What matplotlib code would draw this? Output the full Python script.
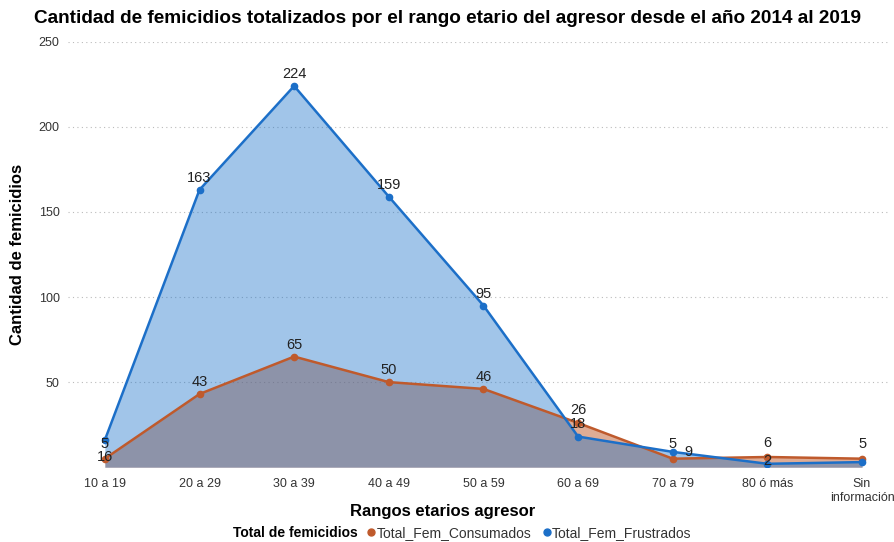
import numpy as np
import matplotlib
matplotlib.use('Agg')
import matplotlib.pyplot as plt
from matplotlib.lines import Line2D

plt.rcParams['font.family'] = ['Liberation Sans', 'DejaVu Sans']

# datos
rangos = ['10 a 19', '20 a 29', '30 a 39', '40 a 49', '50 a 59', '60 a 69',
          '70 a 79', '80 ó más', 'Sin\ninformación']
consumados = [5, 43, 65, 50, 46, 26, 5, 6, 5]
frustrados = [16, 163, 224, 159, 95, 18, 9, 2, 3]

# desplazamiento de las etiquetas (pixeles), None = sin etiqueta
off_cons = [(0, 15), (0, 12), (0, 12), (0, 12), (0, 12), (0, 13), (0, 15), (0, 14), (0, 15)]
off_frus = [(0, -17), (0, 12), (0, 12), (0, 12), (0, 12), (0, 13), (16, 0), (0, 3), None]

c_cons = '#bf5a2c'
c_frus = '#1c6fc8'

fig = plt.figure(figsize=(8.94, 5.42), dpi=100)
ax = fig.add_axes([0.076, 0.138, 0.92, 0.785])
x = np.arange(len(rangos))

ax.fill_between(x, consumados, 0, color='#bf5a2c', alpha=0.5, lw=0, zorder=1)
ax.fill_between(x, frustrados, 0, color='#146ec8', alpha=0.4, lw=0, zorder=2)
ax.plot(x, consumados, color=c_cons, lw=1.8, marker='o', ms=4.5, zorder=3)
ax.plot(x, frustrados, color=c_frus, lw=1.8, marker='o', ms=4.5, zorder=4)

for i in range(len(x)):
    if off_cons[i] is not None:
        ax.annotate(str(consumados[i]), (x[i], consumados[i]), xytext=off_cons[i],
                    textcoords='offset pixels', ha='center', va='center',
                    fontsize=10.5, color='#222222', zorder=5)
    if off_frus[i] is not None:
        ax.annotate(str(frustrados[i]), (x[i], frustrados[i]), xytext=off_frus[i],
                    textcoords='offset pixels', ha='center', va='center',
                    fontsize=10.5, color='#222222', zorder=5)

ax.set_ylim(0, 250)
ax.set_xlim(-0.39, 8.3)
ax.set_yticks([50, 100, 150, 200, 250])
ax.set_xticks(x)
ax.set_xticklabels(rangos)
ax.tick_params(axis='both', length=0, labelsize=9, colors='#333333', pad=8)
ax.tick_params(axis='y', pad=6)
ax.grid(axis='y', linestyle=(0, (1, 3)), color='#bbbbbb', lw=0.8)
ax.set_axisbelow(True)
for s in ax.spines.values():
    s.set_visible(False)

ax.set_xlabel('Rangos etarios agresor', fontsize=12, fontweight='bold')
ax.xaxis.set_label_coords(0.455, -0.087)
ax.set_ylabel('Cantidad de femicidios', fontsize=12, fontweight='bold')
ax.yaxis.set_label_coords(-0.052, 0.5)

fig.text(0.5, 0.966, 'Cantidad de femicidios totalizados por el rango etario del agresor desde el año 2014 al 2019',
         ha='center', va='center', fontsize=13.7, fontweight='bold')

fig.text(0.4, 0.0166, 'Total de femicidios', ha='right', va='center', fontsize=10, fontweight='bold')
handles = [Line2D([], [], ls='none', marker='o', ms=5, color=c_cons),
           Line2D([], [], ls='none', marker='o', ms=5, color=c_frus)]
fig.legend(handles, ['Total_Fem_Consumados', 'Total_Fem_Frustrados'], ncol=2,
           loc='center left', bbox_to_anchor=(0.398, 0.0166), frameon=False,
           fontsize=10, handletextpad=-0.2, columnspacing=0.5, handlelength=1.2,
           labelcolor='#333333', borderpad=0)

fig.savefig('out.png', dpi=100)
